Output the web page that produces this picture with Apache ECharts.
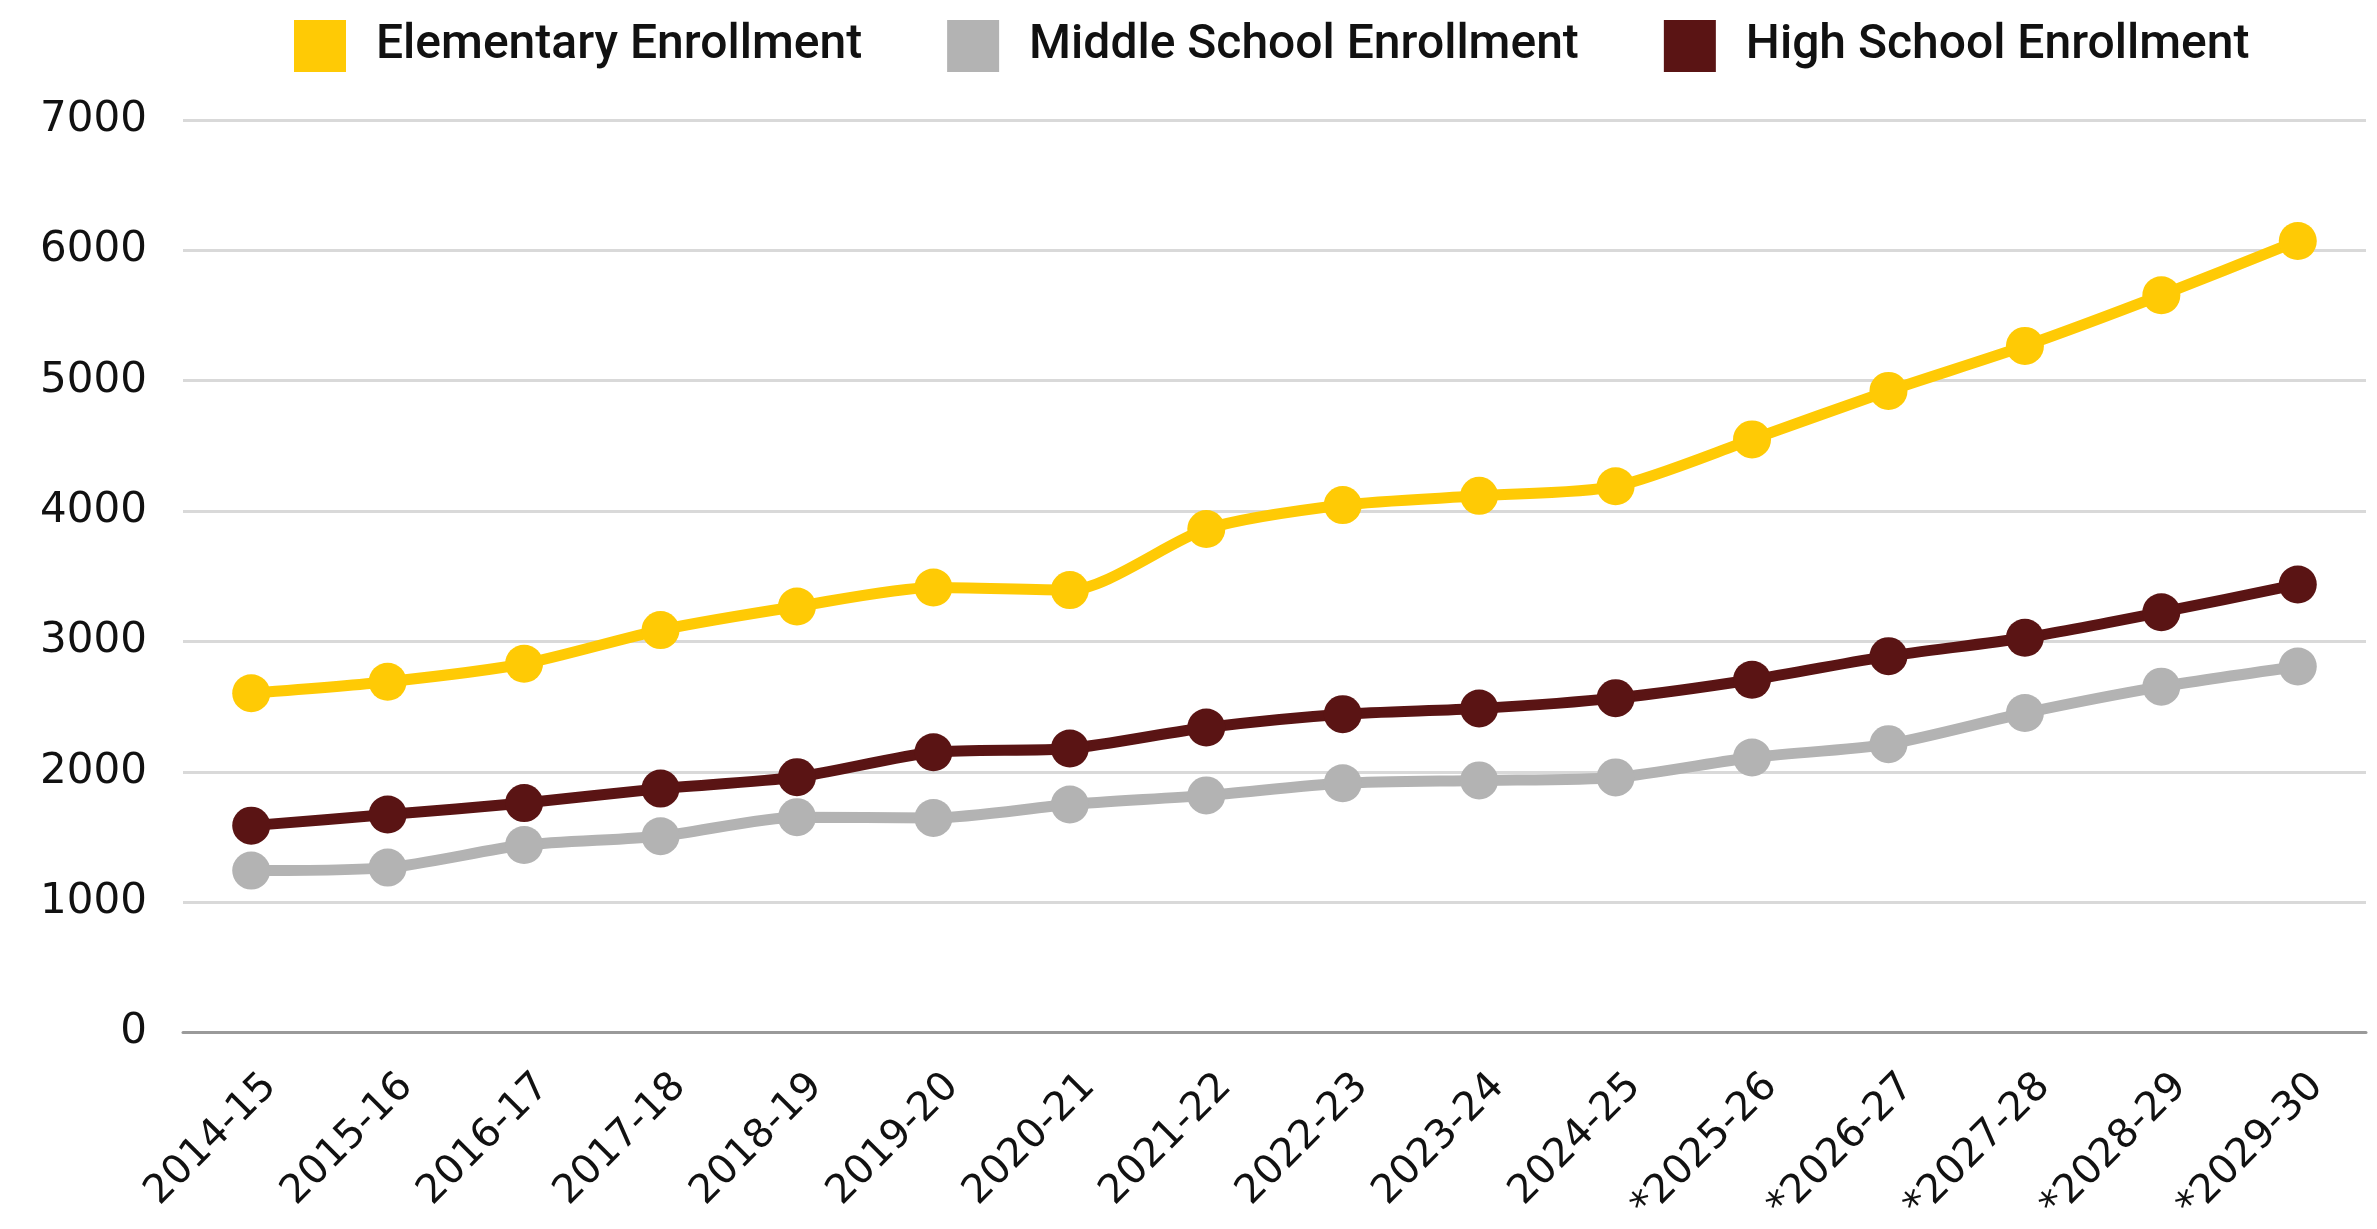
<!DOCTYPE html>
<html>
<head>
<meta charset="utf-8">
<script src="https://cdn.jsdelivr.net/npm/echarts@6/dist/echarts.min.js"></script>
<style>
html,body{margin:0;padding:0;background:#fff;}
#chart{width:2377px;height:1229px;}
</style>
</head>
<body>
<div id="chart"></div>
<script>
var categories = ['2014-15','2015-16','2016-17','2017-18','2018-19','2019-20','2020-21','2021-22','2022-23','2023-24','2024-25','*2025-26','*2026-27','*2027-28','*2028-29','*2029-30'];
var elementary = [2603, 2691, 2829, 3087, 3268, 3414, 3394, 3862, 4046, 4117, 4190, 4550, 4922, 5267, 5656, 6072];
var middle = [1242, 1265, 1438, 1506, 1652, 1646, 1749, 1819, 1912, 1934, 1957, 2110, 2212, 2451, 2653, 2808];
var high = [1587, 1672, 1760, 1871, 1959, 2150, 2179, 2340, 2442, 2486, 2565, 2706, 2887, 3028, 3224, 3437];
var seriesNames = ['Elementary Enrollment','Middle School Enrollment','High School Enrollment'];
var colors = ['#FFCA05','#B3B3B3','#5A1414'];

var chart = echarts.init(document.getElementById('chart'));
function mk(name, data, color){
  return {
    name: name, type: 'line', data: data, smooth: 0.25,
    symbol: 'circle', symbolSize: 38,
    lineStyle: {width: 11, color: color},
    itemStyle: {color: color},
    emphasis: {disabled: true}
  };
}
chart.setOption({
  animation: false,
  color: colors,
  legend: {
    left: 289, top: 15,
    itemWidth: 52, itemHeight: 52, itemGap: 85,
    icon: 'rect',
    textStyle: {fontFamily: 'Roboto', fontWeight: 500, fontSize: 48, color: '#111', padding: [0,0,0,25]},
    data: seriesNames
  },
  grid: {left: 183, right: 11, top: 120, bottom: 194, containLabel: false},
  xAxis: {
    type: 'category', data: categories, boundaryGap: true,
    axisLine: {lineStyle: {color: '#9a9a9a', width: 3}},
    axisTick: {show: false},
    axisLabel: {rotate: 45, interval: 0, margin: 67, padding: [0, -27, 0, 0], fontFamily: 'DejaVu Sans', fontSize: 40, color: '#111'}
  },
  yAxis: {
    type: 'value', min: 0, max: 7000, interval: 1000,
    axisLine: {show: false}, axisTick: {show: false},
    splitLine: {lineStyle: {color: '#d9d9d9', width: 3}},
    axisLabel: {margin: 36, fontFamily: 'DejaVu Sans', fontSize: 42, color: '#111', formatter: function(v){ return String(v); }}
  },
  series: [mk(seriesNames[0], elementary, colors[0]), mk(seriesNames[1], middle, colors[1]), mk(seriesNames[2], high, colors[2])]
});
</script>
</body>
</html>
